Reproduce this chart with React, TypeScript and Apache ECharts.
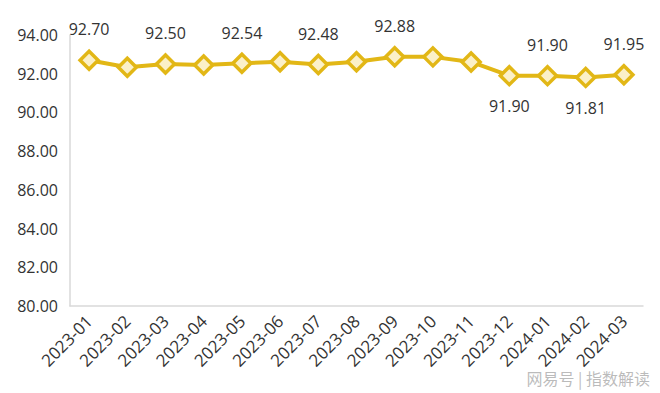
import React, { useEffect, useRef } from "react";
import * as echarts from "echarts";

const categories = [
  "2023-01", "2023-02", "2023-03", "2023-04", "2023-05", "2023-06", "2023-07", "2023-08",
  "2023-09", "2023-10", "2023-11", "2023-12", "2024-01", "2024-02", "2024-03",
];
const values = [92.7, 92.33, 92.5, 92.45, 92.54, 92.62, 92.48, 92.62, 92.88, 92.87, 92.61, 91.9, 91.9, 91.81, 91.95];
// label placement per point: "top", "bottom" or "" (none)
const labelPos = ["top", "", "top", "", "top", "", "top", "", "top", "", "", "bottom", "top", "bottom", "top"];
const yMin = 80;
const yMax = 94;
const yInterval = 2;

export default function App() {
  const ref = useRef<HTMLDivElement>(null);
  useEffect(() => {
    if (!ref.current) return;
    const chart = echarts.init(ref.current, null, { renderer: "svg" });
    const font = "'Open Sans', 'Noto Sans', sans-serif";
    chart.setOption({
      animation: false,
      backgroundColor: "#ffffff",
      textStyle: { fontFamily: font },
      grid: { left: 70, right: 17, top: 35, bottom: 87 },
      xAxis: {
        type: "category",
        data: categories,
        boundaryGap: true,
        axisLine: { show: true, lineStyle: { color: "#d9d9d9", width: 1.5 } },
        axisTick: { show: false },
        axisLabel: { rotate: 45, color: "#333", fontSize: 17, fontFamily: font, margin: 12, interval: 0 },
      },
      yAxis: {
        type: "value",
        min: yMin,
        max: yMax,
        interval: yInterval,
        splitLine: { show: false },
        axisLine: { show: true, lineStyle: { color: "#d9d9d9", width: 1.5 } },
        axisTick: { show: false },
        axisLabel: {
          color: "#333",
          fontSize: 16,
          fontFamily: font,
          margin: 12,
          formatter: (v: number) => v.toFixed(2),
        },
      },
      series: [
        {
          type: "line",
          data: values.map((v, i) => ({
            value: v,
            label: {
              show: labelPos[i] !== "",
              position: labelPos[i] || "top",
              distance: 12,
            },
          })),
          symbol: "diamond",
          symbolSize: 18,
          lineStyle: { color: "#E2B716", width: 4 },
          itemStyle: { color: "#FBF0C8", borderColor: "#E2B716", borderWidth: 3.5 },
          label: {
            color: "#333",
            fontSize: 16,
            fontFamily: font,
            formatter: (p: any) => Number(p.value).toFixed(2),
          },
        },
      ],
      graphic: [
        {
          type: "text",
          right: 10,
          bottom: 7,
          style: {
            text: "网易号 | 指数解读",
            fill: "rgba(175,175,175,0.85)",
            font: "16px 'Noto Sans CJK SC', sans-serif",
          },
        },
      ],
    });
    return () => chart.dispose();
  }, []);
  return <div ref={ref} style={{ width: 660, height: 393, position: "absolute", left: 0, top: 0 }} />;
}
